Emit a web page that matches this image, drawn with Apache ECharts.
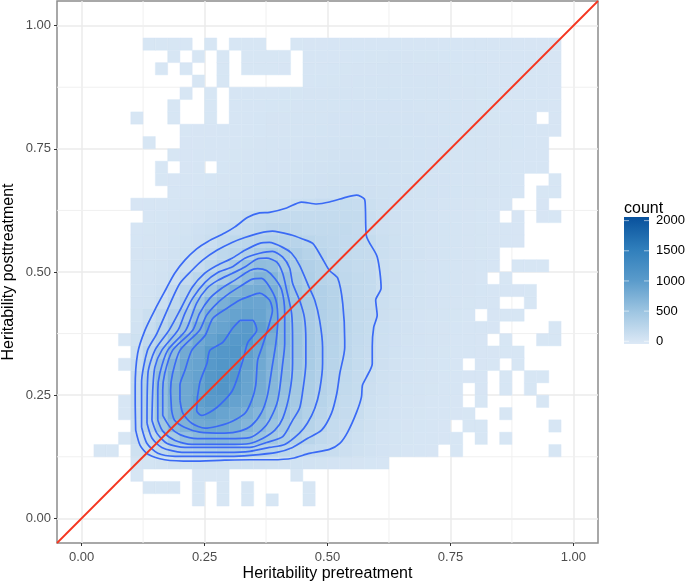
<!DOCTYPE html>
<html>
<head>
<meta charset="utf-8">
<style>html,body{margin:0;padding:0;background:#fff}#chart{width:685px;height:584px}</style>
<script src="https://cdn.jsdelivr.net/npm/echarts@6/dist/echarts.min.js"></script>
</head>
<body>
<div id="chart"></div>
<script>
// tick values
const majorTicks = [0, 0.25, 0.5, 0.75, 1]
const minorTicks = [0.125, 0.375, 0.625, 0.875]
const legendTicks = [0, 500, 1000, 1500, 2000]
const binWidth = 0.025

// counts per row of bins, bottom to top. index = row number, every run = [first column, ...counts]
const row0 = []
const row1 = [[9, 3], [11, 3], [13, 3], [15, 3], [18, 3]]
const row2 = [[5, 3, 3, 3], [9, 4], [11, 4], [13, 3], [18, 3]]
const row3 = [[4, 5], [9, 4, 5, 5], [17, 3]]
const row4 = [[4, 24, 36, 50, 64, 76, 84, 90, 92, 92, 90, 84, 78, 70, 62, 56, 48, 40, 32, 26, 20, 14]]
const row5 = [[1, 2, 2], [4, 80, 130, 200, 260, 290, 320, 350, 370, 370, 350, 300, 265, 240, 190, 165, 150, 130, 100, 76, 54, 38, 26, 18, 12, 8], [30, 4], [38, 3]]
const row6 = [[3, 3, 120, 190, 290, 420, 560, 640, 680, 680, 660, 610, 520, 450, 380, 320, 260, 195, 160, 120, 90, 64, 44, 32, 22, 16, 12, 8, 6], [32, 4], [34, 3]]
const row7 = [[4, 150, 280, 470, 640, 720, 820, 850, 840, 780, 690, 610, 500, 430, 360, 290, 225, 170, 145, 110, 74, 50, 36, 26, 20, 14, 10], [31, 5, 4], [38, 3]]
const row8 = [[3, 3, 160, 300, 540, 740, 820, 900, 950, 900, 850, 760, 680, 570, 480, 400, 320, 255, 190, 160, 130, 82, 56, 40, 28, 22, 16, 12, 8, 6], [34, 4]]
const row9 = [[3, 3, 165, 310, 570, 760, 850, 960, 1020, 1020, 920, 860, 760, 630, 520, 430, 340, 275, 215, 165, 150, 90, 62, 44, 32, 24, 18, 14, 10], [32, 6], [37, 4]]
const row10 = [[4, 165, 320, 590, 770, 850, 930, 1060, 1110, 1000, 900, 800, 670, 560, 450, 365, 295, 240, 185, 155, 100, 70, 50, 36, 28, 22, 16, 12], [32, 8], [34, 4], [36, 4]]
const row11 = [[4, 160, 320, 580, 760, 860, 920, 1060, 1120, 1060, 910, 820, 690, 590, 470, 380, 310, 255, 200, 160, 120, 78, 56, 40, 30, 24, 18, 14, 10, 8], [34, 5], [36, 4, 4]]
const row12 = [[3, 3, 140, 290, 530, 720, 860, 910, 1040, 1100, 1080, 930, 840, 710, 600, 490, 395, 320, 270, 215, 165, 135, 84, 60, 44, 34, 26, 20, 14], [32, 8, 6], [35, 4]]
const row13 = [[4, 110, 240, 430, 620, 820, 880, 1030, 1080, 1090, 970, 860, 730, 620, 500, 400, 325, 275, 225, 170, 145, 88, 64, 46, 36, 28, 22, 16, 12, 10, 8, 6, 4]]
const row14 = [[3, 3, 80, 190, 300, 480, 690, 850, 920, 1000, 1050, 1040, 900, 780, 640, 510, 400, 330, 280, 230, 175, 150, 92, 68, 50, 38, 30, 24, 18, 14, 10], [34, 5], [37, 5, 4]]
const row15 = [[4, 60, 140, 240, 350, 500, 720, 860, 910, 980, 1020, 950, 840, 640, 510, 400, 330, 285, 240, 185, 155, 96, 72, 54, 42, 32, 26, 20, 16, 12, 8], [38, 5]]
const row16 = [[4, 48, 105, 190, 280, 400, 580, 760, 860, 915, 940, 900, 790, 640, 500, 400, 330, 285, 240, 185, 165, 100, 76, 56, 44, 34, 28, 22, 16], [33, 8, 6, 5]]
const row17 = [[4, 38, 52, 110, 200, 300, 470, 640, 760, 850, 890, 880, 830, 660, 500, 410, 330, 290, 235, 185, 165, 105, 80, 60, 48, 38, 32, 26, 22, 18, 14], [36, 5]]
const row18 = [[4, 34, 46, 70, 160, 250, 350, 470, 620, 730, 790, 810, 760, 620, 470, 390, 330, 285, 220, 180, 165, 108, 82, 62, 50, 40, 34, 28, 24, 20, 16, 12, 8, 5]]
const row19 = [[4, 30, 40, 56, 90, 160, 240, 310, 390, 490, 620, 720, 680, 540, 420, 345, 290, 260, 210, 180, 165, 110, 84, 64, 52, 42, 36, 28, 24, 18], [34, 6]]
const row20 = [[4, 28, 36, 50, 70, 110, 150, 215, 290, 400, 520, 590, 570, 450, 380, 330, 290, 220, 190, 170, 160, 105, 80, 62, 50, 42, 36, 30, 25, 20, 16], [35, 5, 5, 5]]
const row21 = [[4, 24, 30, 40, 56, 80, 110, 160, 215, 260, 330, 400, 440, 400, 340, 290, 250, 205, 185, 170, 160, 110, 84, 66, 54, 44, 36, 30, 26, 22, 18]]
const row22 = [[4, 20, 26, 34, 46, 64, 85, 115, 165, 215, 240, 265, 290, 285, 265, 245, 210, 190, 175, 165, 155, 105, 80, 64, 52, 44, 36, 30, 26, 22, 18, 14, 10]]
const row23 = [[4, 18, 22, 30, 40, 52, 70, 95, 125, 150, 170, 195, 220, 225, 205, 185, 180, 185, 185, 160, 120, 95, 75, 60, 50, 42, 36, 30, 26, 22, 18, 14, 10]]
const row24 = [[5, 16, 20, 26, 34, 42, 54, 68, 90, 130, 150, 155, 160, 165, 165, 165, 170, 170, 165, 120, 90, 72, 58, 48, 40, 34, 28, 24, 20, 16], [35, 8], [37, 8, 6]]
const row25 = [[4, 10, 12, 16, 20, 24, 30, 36, 44, 52, 60, 70, 78, 90, 105, 125, 145, 150, 155, 150, 110, 85, 68, 54, 46, 40, 34, 30, 26, 22, 18, 14], [37, 8]]
const row26 = [[7, 12, 16, 20, 24, 28, 34, 40, 46, 52, 60, 68, 76, 84, 90, 92, 90, 84, 76, 68, 60, 52, 46, 40, 36, 32, 28, 24, 20, 16], [37, 6, 5]]
const row27 = [[6, 6, 10, 14, 16, 20, 24, 28, 34, 38, 44, 50, 56, 62, 68, 74, 76, 76, 72, 66, 60, 54, 48, 42, 38, 34, 30, 26, 24, 20, 16], [38, 6]]
const row28 = [[6, 5], [8, 10, 12], [11, 20, 24, 30, 34, 38, 44, 48, 54, 60, 64, 68, 68, 66, 62, 56, 50, 46, 42, 36, 32, 28, 26, 22, 20, 18, 14, 12]]
const row29 = [[7, 6, 10, 12, 14, 18, 22, 26, 30, 34, 38, 42, 46, 50, 55, 58, 60, 60, 58, 55, 50, 46, 42, 38, 34, 30, 28, 24, 22, 18, 16, 12]]
const row30 = [[5, 4], [8, 8, 10, 12, 15, 18, 22, 24, 28, 30, 35, 38, 42, 46, 50, 52, 54, 54, 52, 50, 46, 42, 38, 34, 30, 28, 24, 22, 20, 16, 12]]
const row31 = [[8, 6, 8, 10, 12, 15, 18, 20, 24, 26, 30, 34, 36, 40, 44, 46, 48, 48, 48, 46, 44, 40, 36, 34, 30, 28, 25, 22, 20, 18, 14, 10]]
const row32 = [[4, 3], [7, 4], [10, 5], [12, 16, 18, 20, 24, 26, 28, 30, 34, 38, 40, 42, 44, 44, 42, 40, 38, 35, 32, 30, 26, 24, 22, 20, 18, 15], [38, 10]]
const row33 = [[7, 3], [10, 4], [12, 14, 16, 18, 20, 22, 25, 28, 30, 32, 36, 38, 40, 40, 38, 38, 35, 32, 30, 28, 25, 22, 20, 18, 16, 15, 12, 10]]
const row34 = [[8, 3], [10, 4], [12, 12, 14, 16, 18, 20, 22, 24, 26, 30, 32, 34, 35, 36, 36, 34, 32, 30, 28, 26, 24, 22, 20, 18, 16, 14, 12, 10]]
const row35 = [[9, 3], [11, 4], [18, 18, 20, 22, 25, 28, 30, 30, 32, 30, 30, 28, 26, 25, 22, 20, 18, 16, 15, 14, 12, 10]]
const row36 = [[6, 3], [8, 3], [11, 3], [13, 5, 6, 6, 8], [18, 15, 18, 20, 22, 24, 26, 28, 28, 28, 26, 25, 24, 22, 20, 20, 18, 16, 14, 12, 12, 10]]
const row37 = [[7, 3], [9, 3], [11, 3], [13, 5, 5, 5, 6], [18, 12, 14, 16, 18, 20, 22, 22, 24, 24, 22, 22, 20, 20, 18, 18, 16, 14, 12, 12, 10, 9]]
const row38 = [[5, 3, 3, 3, 3], [10, 3], [12, 4, 4, 4], [17, 5, 8, 10, 12, 14, 15, 16, 18, 18, 18, 18, 16, 16, 15, 15, 14, 12, 12, 10, 10, 9, 8]]

const countRows = [row0, row1, row2, row3, row4, row5, row6, row7, row8, row9, row10, row11, row12, row13, row14, row15, row16, row17, row18, row19,
  row20, row21, row22, row23, row24, row25, row26, row27, row28, row29, row30, row31, row32, row33, row34, row35, row36, row37, row38]

// density contours, outer to inner
const contour1 = [[.110,.179],[.109,.240],[.109,.267],[.114,.335],[.129,.382],[.152,.429],[.172,.466],[.189,.497],[.210,.524],[.234,.547],[.257,.562],[.291,.579],[.311,.591],[.338,.611],[.362,.620],[.382,.621],[.417,.630],[.447,.642],[.478,.638],[.504,.642],[.539,.652],[.559,.656],[.575,.648],[.577,.631],[.579,.574],[.601,.531],[.609,.467],[.598,.443],[.601,.412],[.594,.388],[.591,.349],[.591,.314],[.579,.286],[.571,.270],[.569,.246],[.559,.215],[.541,.175],[.525,.152],[.504,.140],[.463,.132],[.429,.122],[.388,.119],[.342,.119],[.291,.118],[.224,.116],[.169,.119],[.135,.130],[.119,.148],[.110,.179]]
const contour2 = [[.122,.185],[.122,.275],[.134,.341],[.153,.375],[.180,.436],[.200,.477],[.224,.503],[.246,.524],[.275,.544],[.306,.560],[.332,.570],[.362,.579],[.388,.583],[.427,.575],[.449,.567],[.470,.558],[.488,.530],[.504,.503],[.521,.487],[.531,.436],[.535,.361],[.535,.347],[.525,.294],[.519,.254],[.508,.213],[.488,.179],[.459,.162],[.429,.144],[.397,.134],[.342,.128],[.301,.126],[.190,.126],[.155,.132],[.133,.152],[.122,.185]]
const contour3 = [[.133,.193],[.135,.295],[.149,.341],[.178,.382],[.203,.428],[.225,.469],[.250,.497],[.275,.513],[.306,.528],[.332,.544],[.362,.558],[.382,.560],[.409,.550],[.427,.538],[.443,.514],[.463,.468],[.474,.443],[.484,.402],[.490,.347],[.490,.315],[.484,.260],[.474,.223],[.459,.193],[.443,.173],[.413,.150],[.382,.144],[.342,.136],[.297,.134],[.204,.134],[.163,.144],[.143,.163],[.133,.193]]
const contour4 = [[.143,.199],[.145,.266],[.149,.307],[.163,.341],[.196,.382],[.210,.416],[.226,.447],[.251,.479],[.277,.499],[.306,.510],[.332,.528],[.362,.538],[.388,.542],[.409,.530],[.423,.508],[.429,.477],[.443,.443],[.453,.408],[.456,.361],[.456,.315],[.449,.254],[.443,.223],[.429,.199],[.409,.166],[.376,.154],[.342,.144],[.297,.144],[.210,.144],[.174,.152],[.153,.173],[.143,.199]]
const contour5 = [[.155,.199],[.155,.260],[.159,.294],[.175,.341],[.212,.382],[.234,.437],[.255,.467],[.277,.483],[.306,.497],[.332,.510],[.356,.526],[.376,.528],[.397,.520],[.409,.497],[.417,.463],[.427,.416],[.429,.361],[.429,.315],[.423,.254],[.409,.203],[.393,.179],[.368,.162],[.342,.152],[.297,.150],[.224,.150],[.190,.158],[.165,.177],[.155,.199]]
const contour6 = [[.165,.209],[.165,.260],[.169,.294],[.185,.341],[.226,.382],[.240,.416],[.261,.447],[.285,.467],[.311,.483],[.342,.503],[.358,.507],[.376,.503],[.393,.487],[.407,.463],[.413,.416],[.413,.355],[.409,.315],[.399,.240],[.382,.199],[.366,.179],[.342,.164],[.297,.162],[.236,.162],[.200,.170],[.180,.185],[.165,.209]]
const contour7 = [[.183,.219],[.181,.260],[.185,.294],[.200,.341],[.240,.382],[.254,.412],[.275,.436],[.301,.457],[.326,.473],[.346,.485],[.366,.487],[.380,.473],[.395,.443],[.399,.402],[.395,.355],[.388,.311],[.378,.250],[.366,.215],[.346,.189],[.322,.177],[.291,.173],[.240,.175],[.209,.185],[.189,.199],[.183,.219]]
const contour8 = [[.200,.240],[.200,.270],[.210,.300],[.224,.341],[.251,.371],[.267,.406],[.295,.426],[.322,.443],[.342,.451],[.362,.457],[.382,.443],[.388,.422],[.382,.396],[.376,.376],[.366,.345],[.358,.321],[.354,.270],[.346,.240],[.332,.213],[.297,.193],[.251,.183],[.224,.193],[.206,.213],[.200,.240]]
const contour9 = [[.322,.402],[.348,.402],[.354,.392],[.356,.382],[.338,.357],[.328,.321],[.307,.260],[.275,.225],[.244,.209],[.234,.219],[.240,.274],[.255,.315],[.261,.341],[.287,.357],[.307,.386],[.322,.402]]
const contours = [contour1, contour2, contour3, contour4, contour5, contour6, contour7, contour8, contour9]

const identityLine = [[-0.05, -0.05], [1.05, 1.05]]

const colorRamp = ['#dde9f6', '#9fc6e2', '#5a9bcb', '#2f7ebb', '#08519c']
const legendMin = -45
const legendMax = 2060

// 把行数据展开成 [x, y, count]
const cells = []
countRows.forEach((runs, row) => {
  runs.forEach(run => {
    run.slice(1).forEach((count, k) => {
      cells.push([(run[0] + k) * binWidth, row * binWidth, count])
    })
  })
})

const myChart = echarts.init(document.querySelector('#chart'))

const fontFamily = 'Liberation Sans'

function makeAxis(name, nameGap, rotate, labelMargin) {
  return {
    type: 'value',
    min: -0.05,
    max: 1.05,
    name: name,
    nameLocation: 'middle',
    nameGap: nameGap,
    nameRotate: rotate,
    nameMoveOverlap: false,
    nameTextStyle: { color: '#000', fontSize: 16, fontFamily: fontFamily },
    axisLine: { show: false, onZero: false },
    axisTick: { show: true, length: 3, customValues: majorTicks, lineStyle: { color: '#333', width: 1 } },
    axisLabel: { color: '#4d4d4d', fontSize: 13, fontFamily: fontFamily, margin: labelMargin, customValues: majorTicks, formatter: v => v.toFixed(2) },
    splitLine: { show: true, lineStyle: { color: '#ebebeb', width: 1.5 } }
  }
}

const option = {
  animation: false,
  grid: [
    { left: 57, top: 1, width: 541, height: 542, outerBoundsMode: 'none', show: true, borderColor: '#8c8c8c', borderWidth: 1.5, backgroundColor: 'transparent' },
    { left: 624, top: 217, width: 25, height: 127, outerBoundsMode: 'none' }
  ],
  xAxis: [
    makeAxis('Heritability pretreatment', 23, 0, 8),
    { gridIndex: 1, type: 'value', min: 0, max: 1, show: false }
  ],
  yAxis: [
    makeAxis('Heritability posttreatment', 40, 90, 6),
    {
      gridIndex: 1,
      type: 'value',
      min: legendMin,
      max: legendMax,
      position: 'right',
      axisLine: { show: false, onZero: false },
      axisTick: { show: false, customValues: legendTicks },
      splitLine: { show: false },
      axisLabel: { color: '#000', fontSize: 13, fontFamily: fontFamily, margin: 7, customValues: legendTicks, formatter: v => String(v) }
    }
  ],
  visualMap: {
    show: false,
    min: legendMin,
    max: legendMax,
    dimension: 2,
    seriesIndex: [1],
    inRange: { color: colorRamp }
  },
  title: {
    text: 'count',
    left: 619,
    top: 196,
    textStyle: { color: '#000', fontSize: 16, fontWeight: 'normal', fontFamily: fontFamily }
  },
  series: [
    // 次网格线
    {
      type: 'custom',
      z: 0,
      silent: true,
      data: minorTicks.map(v => [v]),
      encode: { x: 0 },
      renderItem(params, api) {
        const v = api.value(0)
        const a = api.coord([v, -0.05]), b = api.coord([v, 1.05])
        const c = api.coord([-0.05, v]), d = api.coord([1.05, v])
        const style = { stroke: '#f0f0f0', lineWidth: 1, fill: null }
        return {
          type: 'group',
          children: [
            { type: 'line', shape: { x1: a[0], y1: a[1], x2: b[0], y2: b[1] }, style },
            { type: 'line', shape: { x1: c[0], y1: c[1], x2: d[0], y2: d[1] }, style }
          ]
        }
      }
    },
    // 计数方块
    {
      type: 'custom',
      z: 2,
      silent: true,
      data: cells,
      encode: { x: 0, y: 1 },
      renderItem(params, api) {
        const p0 = api.coord([api.value(0), api.value(1) + binWidth])
        const p1 = api.coord([api.value(0) + binWidth, api.value(1)])
        const color = api.visual('color')
        return {
          type: 'rect',
          shape: { x: p0[0], y: p0[1], width: p1[0] - p0[0], height: p1[1] - p0[1] },
          style: { fill: color, stroke: color, lineWidth: 0.4 }
        }
      }
    },
    // 色条
    {
      type: 'custom',
      xAxisIndex: 1,
      yAxisIndex: 1,
      z: 2,
      silent: true,
      data: [[0, legendMin, legendMax]],
      encode: { x: 0, y: 1 },
      renderItem(params, api) {
        const p0 = api.coord([0, api.value(2)])
        const p1 = api.coord([1, api.value(1)])
        return {
          type: 'rect',
          shape: { x: p0[0], y: p0[1], width: p1[0] - p0[0], height: p1[1] - p0[1] },
          style: {
            fill: new echarts.graphic.LinearGradient(0, 1, 0, 0,
              colorRamp.map((color, k) => ({ offset: k / (colorRamp.length - 1), color })))
          }
        }
      }
    },
    // 色条刻度
    {
      type: 'custom',
      xAxisIndex: 1,
      yAxisIndex: 1,
      z: 3,
      silent: true,
      data: legendTicks.map(v => [0, v]),
      encode: { x: 0, y: 1 },
      renderItem(params, api) {
        const a = api.coord([0, api.value(1)]), b = api.coord([1, api.value(1)])
        const style = { stroke: '#fff', lineWidth: 0.8, opacity: 0.7, fill: null }
        return {
          type: 'group',
          children: [
            { type: 'line', shape: { x1: a[0], y1: a[1], x2: a[0] + 5, y2: a[1] }, style },
            { type: 'line', shape: { x1: b[0] - 5, y1: b[1], x2: b[0], y2: b[1] }, style }
          ]
        }
      }
    },
    // 等高线
    ...contours.map(points => ({
      type: 'line',
      z: 4,
      silent: true,
      data: points,
      smooth: 0.25,
      showSymbol: false,
      symbol: 'none',
      lineStyle: { color: '#3a6af5', width: 1.7 }
    })),
    // 红色对角线
    {
      type: 'line',
      z: 5,
      silent: true,
      data: identityLine,
      showSymbol: false,
      symbol: 'none',
      lineStyle: { color: '#f5351f', width: 1.8 }
    }
  ]
}

myChart.setOption(option)
</script>
</body>
</html>
